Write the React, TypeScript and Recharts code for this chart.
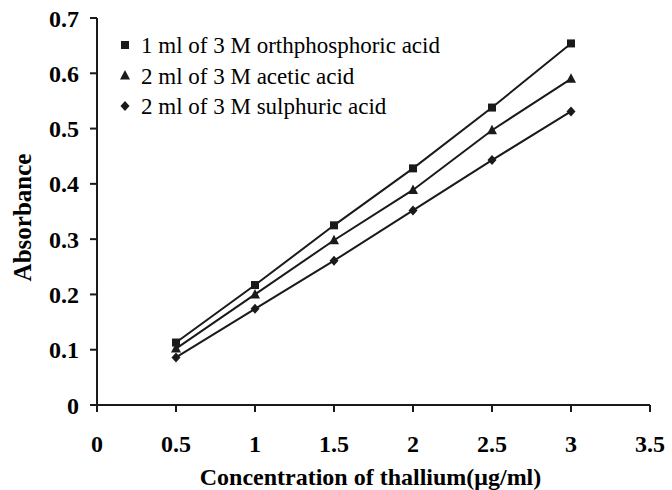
import { LineChart, Line, XAxis, YAxis } from "recharts";

document.body.style.margin = "0";

const concentration = [0.5, 1, 1.5, 2, 2.5, 3];
const orthophosphoric = [0.113, 0.217, 0.325, 0.428, 0.538, 0.654];
const acetic = [0.102, 0.2, 0.298, 0.389, 0.497, 0.59];
const sulphuric = [0.086, 0.174, 0.261, 0.352, 0.443, 0.531];
const xTicks = [0, 0.5, 1, 1.5, 2, 2.5, 3, 3.5];
const yTicks = [0, 0.1, 0.2, 0.3, 0.4, 0.5, 0.6, 0.7];

const seriesNames = [
  "1 ml of 3 M orthphosphoric acid",
  "2 ml of 3 M acetic acid",
  "2 ml of 3 M sulphuric acid",
];

const data = concentration.map((c, i) => ({
  c,
  ortho: orthophosphoric[i],
  acetic: acetic[i],
  sulph: sulphuric[i],
}));

const FONT = "'Liberation Serif', 'Times New Roman', serif";
const INK = "#1a1a1a";

type Shape = "square" | "triangle" | "diamond";

const marker = (shape: Shape, cx: number, cy: number, key?: string) => {
  if (shape === "square")
    return <rect key={key} x={cx - 4} y={cy - 4} width={8} height={8} fill={INK} />;
  if (shape === "triangle")
    return (
      <polygon
        key={key}
        points={`${cx},${cy - 5.5} ${cx + 5},${cy + 4} ${cx - 5},${cy + 4}`}
        fill={INK}
      />
    );
  return (
    <polygon
      key={key}
      points={`${cx},${cy - 5} ${cx + 4.5},${cy} ${cx},${cy + 5} ${cx - 4.5},${cy}`}
      fill={INK}
    />
  );
};

const dotFor = (shape: Shape) => (p: any) =>
  marker(shape, p.cx, p.cy, `${shape}-${p.index}`);

const shapes: Shape[] = ["square", "triangle", "diamond"];

// legend sits inside the plot, top-left
const LegendBox = () => (
  <svg
    width={360}
    height={95}
    style={{ position: "absolute", left: 119, top: 31, overflow: "visible" }}
  >
    {seriesNames.map((name, i) => (
      <g key={name}>
        {marker(shapes[i], 6, 14 + i * 30.5)}
        <text
          x={22}
          y={14 + i * 30.5}
          dy="0.35em"
          style={{ fontFamily: FONT, fontSize: 23 }}
          fill="#000"
        >
          {name}
        </text>
      </g>
    ))}
  </svg>
);

const YTitle = (props: any) => {
  const { viewBox } = props;
  const cy = viewBox.y + viewBox.height / 2 + 6;
  return (
    <text
      x={22}
      y={cy}
      transform={`rotate(-90, 22, ${cy})`}
      textAnchor="middle"
      dominantBaseline="central"
      style={{ fontFamily: FONT, fontWeight: "bold", fontSize: 25 }}
      fill="#000"
    >
      Absorbance
    </text>
  );
};

const XTitle = (props: any) => {
  const { viewBox } = props;
  const cx = viewBox.x + viewBox.width / 2 - 3;
  return (
    <text
      x={cx}
      y={477}
      textAnchor="middle"
      dominantBaseline="central"
      style={{ fontFamily: FONT, fontWeight: "bold", fontSize: 24 }}
      fill="#000"
    >
      Concentration of thallium(μg/ml)
    </text>
  );
};

const tickStyle = { fontFamily: FONT, fontWeight: "bold", fontSize: 24, fill: "#000" };

export default function App() {
  return (
    <div style={{ position: "relative", width: 672, height: 490 }}>
      <LineChart
        width={672}
        height={490}
        data={data}
        margin={{ top: 18, right: 22, left: 0, bottom: 0 }}
      >
        <XAxis
          dataKey="c"
          type="number"
          domain={[0, 3.5]}
          ticks={xTicks}
          interval={0}
          height={85}
          tickSize={7}
          tickMargin={23}
          axisLine={{ stroke: INK, strokeWidth: 2 }}
          tickLine={{ stroke: INK, strokeWidth: 2 }}
          tick={tickStyle}
          label={<XTitle />}
        />
        <YAxis
          type="number"
          domain={[0, 0.7]}
          ticks={yTicks}
          interval={0}
          width={97}
          tickSize={7}
          tickMargin={11}
          tickFormatter={(v: number) => v.toString()}
          axisLine={{ stroke: INK, strokeWidth: 2 }}
          tickLine={{ stroke: INK, strokeWidth: 2 }}
          tick={tickStyle}
          label={<YTitle />}
        />
        <Line
          dataKey="ortho"
          name={seriesNames[0]}
          stroke={INK}
          strokeWidth={2}
          dot={dotFor("square")}
          isAnimationActive={false}
        />
        <Line
          dataKey="acetic"
          name={seriesNames[1]}
          stroke={INK}
          strokeWidth={2}
          dot={dotFor("triangle")}
          isAnimationActive={false}
        />
        <Line
          dataKey="sulph"
          name={seriesNames[2]}
          stroke={INK}
          strokeWidth={2}
          dot={dotFor("diamond")}
          isAnimationActive={false}
        />
      </LineChart>
      <LegendBox />
    </div>
  );
}
